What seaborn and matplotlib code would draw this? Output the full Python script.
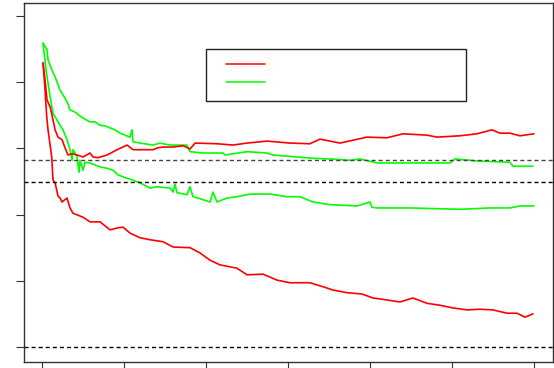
import matplotlib
matplotlib.use("Agg")
import matplotlib.pyplot as plt
import seaborn as sns
import pandas as pd
from matplotlib.patches import Rectangle
from matplotlib.lines import Line2D

# ---- data ----
red_upper_x = [12, 37, 61, 98, 122, 159, 195, 244, 280, 317, 366, 427, 500, 585, 622, 683, 793,
               915, 1037, 1110, 1232, 1354, 1415, 1476, 1598, 1720, 1805, 1866, 2134, 2329, 2500,
               2744, 3024, 3268, 3390, 3634, 3963, 4207, 4402, 4695, 4817, 5098, 5305, 5488,
               5585, 5707, 5829, 6000]
red_upper_y = [4.29, 4.03, 3.73, 3.63, 3.50, 3.28, 3.17, 3.13, 3.01, 2.90, 2.92, 2.90, 2.87,
               2.93, 2.87, 2.86, 2.90, 2.98, 3.05, 2.98, 2.98, 2.98, 3.01, 3.02, 3.02, 3.04,
               2.99, 3.08, 3.07, 3.05, 3.08, 3.11, 3.08, 3.07, 3.14, 3.08, 3.17, 3.16, 3.22,
               3.20, 3.17, 3.19, 3.22, 3.28, 3.23, 3.23, 3.19, 3.22]

red_lower_x = [12, 37, 57, 73, 118, 134, 159, 195, 220, 244, 305, 341, 378, 500, 585, 707, 829,
               927, 988, 1073, 1195, 1317, 1476, 1598, 1805, 1927, 2049, 2171, 2378, 2500, 2695,
               2866, 3024, 3122, 3268, 3427, 3549, 3720, 3902, 4037, 4207, 4366, 4524, 4695,
               4854, 5012, 5183, 5341, 5500, 5671, 5793, 5890, 5988]
red_lower_y = [4.29, 3.88, 3.48, 3.28, 2.87, 2.52, 2.48, 2.28, 2.25, 2.19, 2.25, 2.10, 2.02, 1.96,
               1.89, 1.89, 1.77, 1.80, 1.81, 1.72, 1.65, 1.62, 1.59, 1.51, 1.50, 1.42, 1.31, 1.24,
               1.19, 1.09, 1.10, 1.01, 0.97, 0.97, 0.97, 0.91, 0.86, 0.82, 0.80, 0.74, 0.71, 0.68,
               0.74, 0.66, 0.63, 0.59, 0.56, 0.57, 0.56, 0.51, 0.51, 0.45, 0.50]

green_upper_x = [12, 61, 73, 122, 159, 220, 280, 317, 341, 402, 463, 524, 585, 646, 707, 768,
                 829, 890, 951, 1012, 1073, 1098, 1110, 1195, 1354, 1439, 1561, 1768, 1805, 1963,
                 2207, 2232, 2500, 2744, 2817, 3110, 3305, 3512, 3756, 3878, 4085, 4488, 4976,
                 5037, 5305, 5707, 5744, 5988]
green_upper_y = [4.59, 4.49, 4.34, 4.18, 4.08, 3.88, 3.76, 3.67, 3.58, 3.55, 3.49, 3.44, 3.40,
                 3.40, 3.35, 3.34, 3.31, 3.28, 3.23, 3.20, 3.17, 3.28, 3.10, 3.08, 3.05, 3.08,
                 3.05, 3.05, 2.95, 2.93, 2.93, 2.90, 2.95, 2.93, 2.90, 2.87, 2.85, 2.84, 2.82,
                 2.84, 2.78, 2.78, 2.78, 2.84, 2.81, 2.79, 2.73, 2.73]

green_lower_x = [12, 49, 98, 134, 195, 256, 305, 341, 366, 378, 427, 451, 463, 500, 524, 585,
                 646, 707, 793, 866, 927, 988, 1110, 1195, 1317, 1402, 1561, 1598, 1622, 1646,
                 1768, 1805, 1841, 1927, 2049, 2085, 2134, 2256, 2378, 2537, 2780, 2988, 3146,
                 3305, 3512, 3841, 4000, 4024, 4085, 4488, 5098, 5463, 5707, 5829, 6000]
green_lower_y = [4.59, 4.18, 3.78, 3.53, 3.40, 3.28, 3.13, 2.98, 2.82, 2.98, 2.87, 2.64, 2.82,
                 2.67, 2.79, 2.78, 2.75, 2.72, 2.70, 2.67, 2.60, 2.57, 2.52, 2.48, 2.40, 2.42,
                 2.40, 2.34, 2.46, 2.33, 2.30, 2.42, 2.27, 2.24, 2.19, 2.34, 2.19, 2.25, 2.27,
                 2.31, 2.31, 2.27, 2.27, 2.19, 2.15, 2.13, 2.19, 2.11, 2.10, 2.10, 2.08, 2.10,
                 2.10, 2.13, 2.13]

ref_levels = [0.0, 2.49, 2.83]
x_ticks = [0, 1000, 2000, 3000, 4000, 5000, 6000]
y_ticks = [0, 1, 2, 3, 4, 5]

# ---- figure ----
sns.set_style("white")
fig = plt.figure(figsize=(5.54, 3.68), dpi=100)
ax = fig.add_axes([24 / 554, 1 - 362 / 368, 529 / 554, 359 / 368])

RED = "#FF0000"
GREEN = "#00FF00"
for xs, ys, c in [(green_upper_x, green_upper_y, GREEN),
                  (green_lower_x, green_lower_y, GREEN),
                  (red_upper_x, red_upper_y, RED),
                  (red_lower_x, red_lower_y, RED)]:
    df = pd.DataFrame({"x": xs, "y": ys})
    sns.lineplot(data=df, x="x", y="y", ax=ax, color=c, lw=1.2,
                 estimator=None, sort=False)

for lvl, col in zip(ref_levels, ["black", "black", "#444444"]):
    ax.axhline(lvl, color=col, lw=1.0, ls=(0, (2.9, 2.2)))

ax.set_xlim(-220, 6232)
ax.set_ylim(-0.227, 5.196)
ax.set_xticks(x_ticks)
ax.set_yticks(y_ticks)
ax.set_xticklabels([])
ax.set_yticklabels([])
ax.set_xlabel("")
ax.set_ylabel("")
ax.tick_params(axis="both", direction="out", length=6, width=0.8, color="#333333",
               bottom=True, left=True)
for s in ax.spines.values():
    s.set_visible(True)
    s.set_color("#333333")
    s.set_linewidth(1.0)

# legend box (no text)
ax.add_patch(Rectangle((0.344, 0.727), 0.4915, 0.145, transform=ax.transAxes,
                       fill=False, edgecolor="#222222", lw=1.0, zorder=5))
ax.add_line(Line2D([0.382, 0.456], [0.830, 0.830], transform=ax.transAxes,
                   color=RED, lw=1.1, zorder=6))
ax.add_line(Line2D([0.382, 0.456], [0.780, 0.780], transform=ax.transAxes,
                   color=GREEN, lw=1.1, zorder=6))

fig.savefig("out.png", dpi=100)
